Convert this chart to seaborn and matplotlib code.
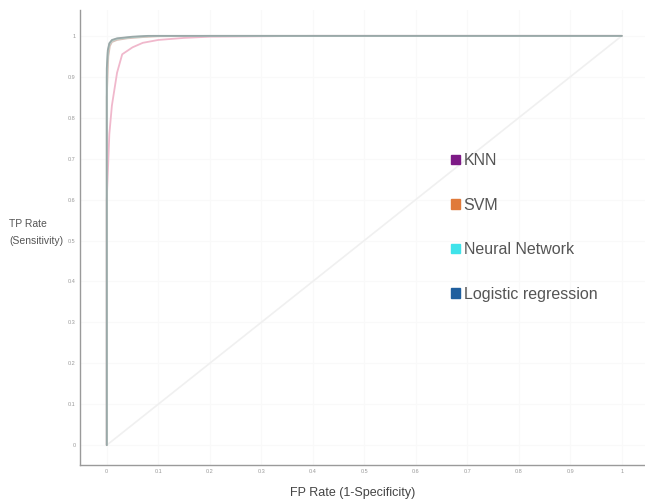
import numpy as np
import pandas as pd
import seaborn as sns
import matplotlib.pyplot as plt
from matplotlib.patches import Patch

models = ["KNN", "SVM", "Neural Network", "Logistic regression"]
colors = ["#7d1a86", "#e07a3a", "#3fe3ea", "#1f5f9e"]
line_colors = ["#f0b8cc", "#d9c0b8", "#b8d8d0", "#9aa8a8"]

fpr_knn = [0.0, 0.0, 0.005, 0.01, 0.02, 0.03, 0.05, 0.07, 0.1, 0.15, 0.2, 0.4, 1.0]
tpr_knn = [0.0, 0.6, 0.76, 0.83, 0.91, 0.955, 0.972, 0.983, 0.99, 0.995, 0.998, 1.0, 1.0]
fpr_svm = [0.0, 0.0, 0.003, 0.006, 0.01, 0.02, 0.04, 0.07, 0.1, 0.2, 1.0]
tpr_svm = [0.0, 0.85, 0.95, 0.975, 0.985, 0.99, 0.994, 0.997, 0.999, 1.0, 1.0]
fpr_nn = [0.0, 0.0, 0.002, 0.005, 0.01, 0.02, 0.05, 0.09, 0.12, 1.0]
tpr_nn = [0.0, 0.9, 0.96, 0.98, 0.988, 0.993, 0.997, 1.0, 1.0, 1.0]
fpr_lr = [0.0, 0.0, 0.002, 0.005, 0.01, 0.02, 0.05, 0.08, 0.1, 1.0]
tpr_lr = [0.0, 0.92, 0.965, 0.982, 0.99, 0.994, 0.998, 1.0, 1.0, 1.0]

fprs = [fpr_knn, fpr_svm, fpr_nn, fpr_lr]
tprs = [tpr_knn, tpr_svm, tpr_nn, tpr_lr]

frames = []
for m, f, t in zip(models, fprs, tprs):
    frames.append(pd.DataFrame({"fpr": f, "tpr": t, "model": m}))
df = pd.concat(frames, ignore_index=True)

sns.set_style("white")
plt.rcParams['font.family'] = ['Liberation Sans', 'DejaVu Sans']

fig = plt.figure(figsize=(6.45, 5.04), dpi=100)
ax = fig.add_axes([0.124, 0.077, 0.876, 0.903])

# chance line
sns.lineplot(x=[0, 1], y=[0, 1], color="#f0f0f0", linewidth=1.2, ax=ax)

sns.lineplot(data=df, x="fpr", y="tpr", hue="model", estimator=None, sort=False,
             palette=dict(zip(models, line_colors)), linewidth=1.3,
             legend=False, ax=ax)

ax.set_xlim(-0.052, 1.045)
ax.set_ylim(-0.049, 1.063)
ticks = np.round(np.arange(0, 1.01, 0.1), 1)
ax.set_xticks(ticks)
ax.set_yticks(ticks)
ax.set_xticklabels([("%g" % t) for t in ticks], fontsize=4, color="#999999")
ax.set_yticklabels([("%g" % t) for t in ticks], fontsize=4, color="#999999")
ax.tick_params(axis="both", length=0, pad=3)
ax.grid(True, color="#f9f9f9", linewidth=0.8)

for s in ["top", "right"]:
    ax.spines[s].set_visible(False)
for s in ["left", "bottom"]:
    ax.spines[s].set_color("#9a9a9a")
    ax.spines[s].set_linewidth(1.0)

ax.set_xlabel("FP Rate (1-Specificity)", fontsize=9, color="#444444")
ax.xaxis.set_label_coords(0.482, -0.048)
ax.set_ylabel("TP Rate\n(Sensitivity)", fontsize=7.5, color="#555555",
              rotation=0, ha="left", va="center", linespacing=1.9)
ax.yaxis.set_label_coords(-0.125, 0.512)

handles = [Patch(facecolor=c, edgecolor=c) for c in colors]
leg = ax.legend(handles, models, loc="upper left", bbox_to_anchor=(0.645, 0.7),
                frameon=False, fontsize=11.5, handlelength=0.55, handleheight=0.55,
                handletextpad=0.25, labelspacing=1.85, borderaxespad=0)
for t in leg.get_texts():
    t.set_color("#555555")

fig.savefig("out.png", dpi=100)
